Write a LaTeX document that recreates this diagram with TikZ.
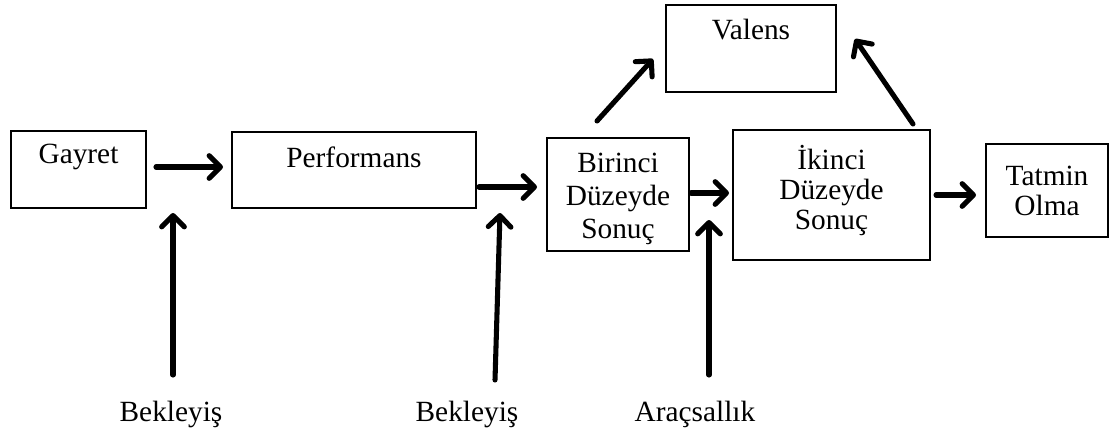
\documentclass[tikz,border=0pt]{standalone}
\usepackage{fontspec}
\setmainfont{Liberation Serif}
\usetikzlibrary{arrows.meta,calc}
\begin{document}
\begin{tikzpicture}[x=0.75pt,y=-0.75pt,
  box/.style={draw,line width=1.5pt,rectangle,inner sep=0pt,align=center,font=\fontsize{22}{22.5}\selectfont},
  tfont/.style={font=\fontsize{22}{25}\selectfont,align=center},
  arr/.style={line width=3.8pt,line cap=round,
    -{Straight Barb[length=8.5pt,width=17pt,line cap=round,line join=round]}},
  lab/.style={font=\fontsize{22}{25}\selectfont,anchor=base}]
\useasboundingbox (0,0) rectangle (1112,433);

% boxes
\node[box,minimum width=101.25pt,minimum height=57.75pt,
  label={[tfont,yshift=9.4pt]center:Gayret}] (gayret) at (78.5,169.5) {};
\node[box,minimum width=183pt,minimum height=57pt,
  label={[tfont,yshift=9.75pt]center:Performans}] (perf) at (354,170) {};
\node[box,minimum width=106.5pt,minimum height=84.75pt,
  label={[tfont,yshift=-3.2pt]center:{Birinci\\Düzeyde\\Sonuç}}] (birinci) at (618,194.5) {};
\node[box,minimum width=127.5pt,minimum height=65.25pt,
  label={[tfont,yshift=13.9pt]center:Valens}] (valens) at (751,48.5) {};
\node[box,minimum width=147.75pt,minimum height=97.5pt,
  label={[tfont,font=\fontsize{22}{22.5}\selectfont,yshift=3pt]center:{İkinci\\Düzeyde\\Sonuç}}] (ikinci) at (831.5,195) {};
\node[box,minimum width=91.5pt,minimum height=69.75pt] (tatmin) at (1047,190.5) {Tatmin\\Olma};

% bottom labels
\node[lab] (bek1) at (171,421) {Bekleyiş};
\node[lab] (bek2) at (467,421) {Bekleyiş};
\node[lab] (arac) at (695,421) {Araçsallık};

% horizontal and diagonal arrows
\draw[arr] ($(gayret.east)+(9,-2.5)$) -- ($(perf.west)+(-8,-3)$);
\draw[arr] ($(perf.east)+(2,17)$) -- ($(birinci.west)+(-9,-7.5)$);
\draw[arr] ($(birinci.east)+(1,-1.5)$) -- ($(ikinci.west)+(-3,-2)$);
\draw[arr] ($(ikinci.east)+(5,0)$) -- ($(tatmin.west)+(-9,4.5)$);
\draw[arr] ($(birinci.north)+(-21,-16)$) -- ($(valens.west)+(-12,10.5)$);
\draw[arr] ($(ikinci.north east)+(-18,-5)$) -- ($(valens.east)+(18,-9.5)$);

% vertical arrows
\coordinate (b1s) at (173,375);
\coordinate (b1t) at (173,213);
\coordinate (b2s) at (495,380);
\coordinate (b2t) at (500,213);
\coordinate (a1s) at (709,375);
\coordinate (a1t) at (709,220);
\draw[arr] (b1s) -- (b1t);
\draw[arr] (b2s) -- (b2t);
\draw[arr] (a1s) -- (a1t);
\end{tikzpicture}
\end{document}
